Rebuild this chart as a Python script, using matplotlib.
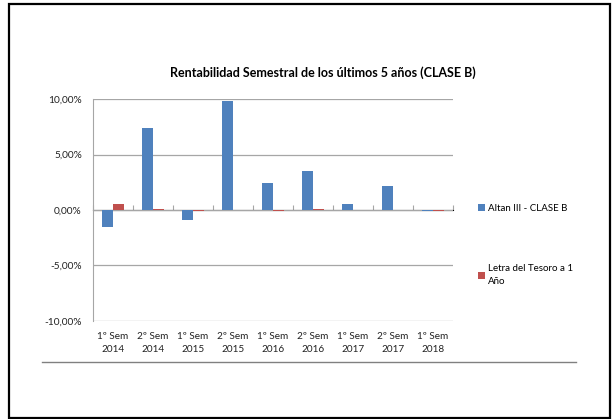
import matplotlib
matplotlib.use("Agg")
import matplotlib.pyplot as plt
import numpy as np
from matplotlib.patches import Rectangle
from matplotlib.lines import Line2D
from matplotlib.ticker import FuncFormatter

plt.rcParams['font.family'] = ['Lato', 'DejaVu Sans']

categories = ['1º Sem\n2014', '2º Sem\n2014', '1º Sem\n2015', '2º Sem\n2015', '1º Sem\n2016',
              '2º Sem\n2016', '1º Sem\n2017', '2º Sem\n2017', '1º Sem\n2018']
altan = [-1.52, 7.41, -0.90, 9.79, 2.43, 3.51, 0.57, 2.16, -0.08]
letra = [0.57, 0.10, -0.10, 0.02, -0.08, 0.09, 0.02, 0.01, -0.08]
series_names = ['Altan III - CLASE B', 'Letra del Tesoro a 1\nAño']

blue = '#4F81BD'
red = '#C0504D'
grid_c = '#a6a6a6'

fig = plt.figure(figsize=(6.13, 4.19), dpi=100)
ax = fig.add_axes([0.1517, 0.2339, 0.5873, 0.5298])

x = np.arange(len(categories))
w = 0.286
b1 = ax.bar(x - w / 2, altan, w, color=blue, label=series_names[0], zorder=3)
b2 = ax.bar(x + w / 2, letra, w, color=red, label=series_names[1], zorder=3)

ax.set_xlim(-0.5, len(categories) - 0.5)
ax.set_ylim(-10, 10)
ax.set_yticks([-10, -5, 0, 5, 10])
ax.yaxis.set_major_formatter(FuncFormatter(lambda v, p: f'{v:.2f}%'.replace('.', ',')))
ax.grid(axis='y', color=grid_c, linewidth=0.9, zorder=0)
for s in ['top', 'right', 'bottom']:
    ax.spines[s].set_visible(False)
ax.spines['left'].set_color(grid_c)
ax.tick_params(axis='y', length=0, labelsize=7.3, pad=8, colors='#222222')

ax.set_xticks(x)
ax.set_xticklabels(categories, fontsize=7.2, color='#222222', linespacing=1.6)
ax.tick_params(axis='x', length=0, pad=8)

# axis line at zero with category separators
sec = ax.secondary_xaxis(0.5)
sec.set_xticks(np.arange(len(categories) + 1) - 0.5)
sec.set_xticklabels([])
sec.spines['bottom'].set_color(grid_c)
sec.tick_params(axis='x', color=grid_c, length=3.5, direction='out')

ax.set_title('Rentabilidad Semestral de los últimos 5 años (CLASE B)', fontsize=9,
             fontweight='bold', pad=16, x=0.639)

leg = fig.legend(handles=[b1, b2], loc='upper left', bbox_to_anchor=(0.765, 0.535), frameon=False,
                 fontsize=7, handlelength=0.8, handleheight=0.8, handletextpad=0.3,
                 labelspacing=5.3)
for t in leg.get_texts():
    t.set_linespacing(1.6)

# page frame and rule
fig.add_artist(Rectangle((9 / 613, 1 / 419), 601 / 613, 414 / 419, transform=fig.transFigure,
                         fill=False, edgecolor='black', linewidth=1.6))
fig.add_artist(Line2D([42 / 613, 576 / 613], [1 - 362 / 419, 1 - 362 / 419],
                      transform=fig.transFigure, color='#808080', linewidth=1))

fig.savefig('out.png', dpi=100)
